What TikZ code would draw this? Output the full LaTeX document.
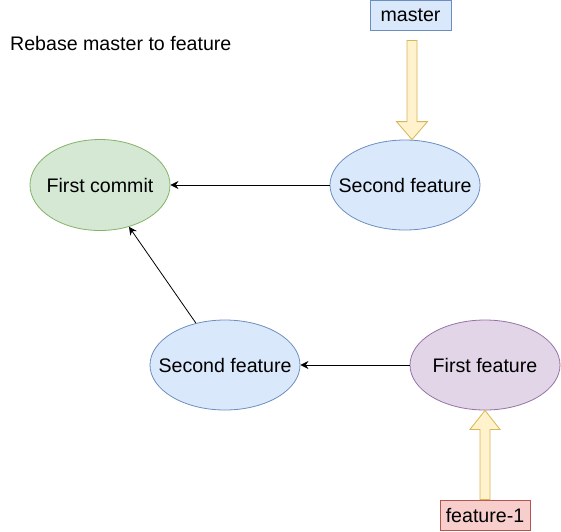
\documentclass[tikz,border=0pt]{standalone}
\usepackage{fontspec}
\setmainfont{Liberation Sans}
\usetikzlibrary{arrows.meta,calc,shapes.geometric}

\definecolor{bluefill}{HTML}{DAE8FC}
\definecolor{blueline}{HTML}{6C8EBF}
\definecolor{greenfill}{HTML}{D5E8D4}
\definecolor{greenline}{HTML}{82B366}
\definecolor{purplefill}{HTML}{E1D5E7}
\definecolor{purpleline}{HTML}{9673A6}
\definecolor{redfill}{HTML}{F8CECC}
\definecolor{redline}{HTML}{B85450}
\definecolor{yellowfill}{HTML}{FFF2CC}
\definecolor{yellowline}{HTML}{D6B656}

\tikzset{
    commit/.style={ellipse, draw, line width=0.8pt, inner sep=0pt,
        minimum width=150pt, minimum height=90pt,
        label={[inner sep=0pt]center:#1}},
    branch/.style={rectangle, draw, line width=0.8pt, inner sep=0pt,
        minimum height=30pt},
    link/.style={-{Stealth[length=8pt,width=8pt]}, line width=0.8pt},
    fatarrow/.style={fill=yellowfill, draw=yellowline, line width=0.8pt,
        line join=miter}
}

\begin{document}
\begin{tikzpicture}[x=1pt,y=-1pt,font=\fontsize{19.6}{23}\selectfont]
    \useasboundingbox (0,0) rectangle (561,531);

    % title
    \node[anchor=west, inner sep=0pt] (title) at (10,43) {Rebase master to feature};

    % commits
    \node[commit=First commit, fill=greenfill, draw=greenline,
        minimum width=140pt, minimum height=91pt] (first) at (100,185) {};
    \node[commit=Second feature, fill=bluefill, draw=blueline] (sectop) at (405,185) {};
    \node[commit=Second feature, fill=bluefill, draw=blueline] (secbot) at (225,365) {};
    \node[commit=First feature, fill=purplefill, draw=purpleline] (firstfeat) at (485,365) {};

    % branch labels
    \node[branch, fill=bluefill, draw=blueline, minimum width=81pt]
        (master) at (410.5,15) {master};
    \node[branch, fill=redfill, draw=redline, minimum width=90pt]
        (feature) at (485,515) {feature-1};

    % history
    \draw[link] (sectop) -- (first);
    \draw[link] (secbot) -- (first);
    \draw[link] (firstfeat) -- (secbot);

    % branch pointers
    \draw[fatarrow] let \p1=(master.south), \p2=(sectop.north) in
        (\x1-3.5pt,\y1-10pt) -- (\x1+6.5pt,\y1-10pt) -- (\x1+6.5pt,\y2+18pt)
        -- (\x1+17pt,\y2+18pt) -- (\x1+1.5pt,\y2) -- (\x1-14pt,\y2+18pt)
        -- (\x1-3.5pt,\y2+18pt) -- cycle;
    \draw[fatarrow] let \p1=(feature.north), \p2=(firstfeat.south) in
        (\x1-5pt,\y1) -- (\x1+5pt,\y1) -- (\x1+5pt,\y2-19pt)
        -- (\x1+15pt,\y2-19pt) -- (\x1,\y2) -- (\x1-15pt,\y2-19pt)
        -- (\x1-5pt,\y2-19pt) -- cycle;
\end{tikzpicture}
\end{document}
